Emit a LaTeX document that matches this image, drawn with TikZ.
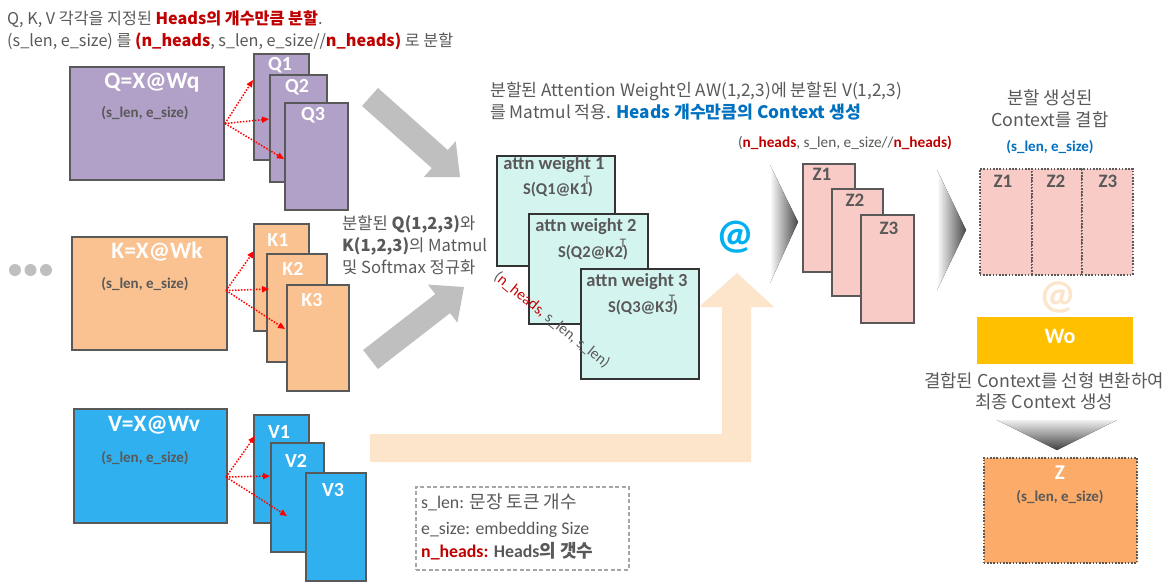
\documentclass[tikz,border=0pt]{standalone}
\usepackage{fontspec}
\setmainfont{Noto Sans CJK KR}
\newfontfamily\cali{Carlito}
\usetikzlibrary{arrows.meta,calc}
\definecolor{qc}{HTML}{B1A0C7}
\definecolor{kc}{HTML}{FAC191}
\definecolor{vc}{HTML}{30B0EE}
\definecolor{bd}{HTML}{595959}
\definecolor{txt}{HTML}{595959}
\definecolor{hr}{HTML}{C00000}
\definecolor{blu}{HTML}{0070C0}
\definecolor{atc}{HTML}{D4F4F0}
\definecolor{atb}{HTML}{333333}
\definecolor{zc}{HTML}{F8CBC6}
\definecolor{woc}{HTML}{FFC000}
\definecolor{zz}{HTML}{FDAB68}
\definecolor{pch}{HTML}{FDE5CC}
\definecolor{arrg}{HTML}{BFBFBF}
\definecolor{atblue}{HTML}{00B0F0}
\definecolor{lgb}{HTML}{A6A6A6}
\begin{document}
\begin{tikzpicture}[x=1pt,y=-1pt,
  box/.style={draw=bd,line width=2pt,anchor=north west,inner sep=0pt},
  abox/.style={draw=atb,line width=2pt,fill=atc,anchor=north west,inner sep=0pt,minimum width=118,minimum height=110},
  dbox/.style={draw=bd,line width=1.6pt,dash pattern=on 1.6pt off 1.6pt,anchor=north west,inner sep=0pt},
  bigl/.style={text=white,font=\cali\bfseries\fontsize{23.5}{26}\selectfont,inner sep=0pt},
  shp/.style={text=txt,font=\cali\bfseries\fontsize{15}{17}\selectfont,inner sep=0pt},
  subl/.style={text=white,font=\cali\bfseries\fontsize{20}{22}\selectfont,inner sep=0pt},
  zl/.style={text=txt,font=\cali\bfseries\fontsize{19}{21}\selectfont,inner sep=0pt},
  awl/.style={text=txt,font=\cali\bfseries\fontsize{18.5}{21}\selectfont,inner sep=0pt},
  sql/.style={text=txt,font=\cali\bfseries\fontsize{16.5}{19}\selectfont,inner sep=0pt},
  tl/.style={text=txt,font=\cali\fontsize{13}{14}\selectfont,inner sep=0pt},
  kr/.style={text=txt,font=\fontsize{16.2}{19}\selectfont,inner sep=0pt,anchor=base west},
  krc/.style={text=txt,font=\fontsize{17.8}{20}\selectfont,inner sep=0pt,anchor=base},
  rar/.style={draw=red,line width=1.5pt,dash pattern=on 1.5pt off 1.5pt,-{Triangle[length=7pt,width=6pt]}},
  dot/.style={circle,fill=arrg,minimum size=12pt,inner sep=0pt}]
\useasboundingbox (0,0) rectangle (1172,587);
\fill[white] (0,0) rectangle (1172,587);

% header
\node[kr] (h1) at (7,24) {Q, K, V 각각을 지정된 \textcolor{hr}{\bfseries Heads의 개수만큼 분할}.};
\node[kr] (h2) at (7,46) {(s\_len, e\_size) 를 \textcolor{hr}{\bfseries (n\_heads}, s\_len, e\_size//\textcolor{hr}{\bfseries n\_heads)} 로 분할};

% gray block arrows
\fill[arrg] (378,88) -- (447.8,150.1) -- (455.7,141.2) -- (460,177) -- (423.9,177) -- (431.8,168.1) -- (362,106) -- cycle;
\fill[arrg] (363.1,350) -- (435.3,294.1) -- (428,284.6) -- (464,287) -- (457.4,322.6) -- (450.1,313.1) -- (377.9,369) -- cycle;

% peach elbow arrow
\fill[pch] (370,434) -- (722,434) -- (722,307) -- (699,307) -- (737,273) -- (774,307) -- (751,307) -- (751,462) -- (370,462) -- cycle;

% Q
\node[box,fill=qc,minimum width=154,minimum height=113] (Q) at (69,66) {};
\node[bigl] (Qt) at (152,83) {Q=X@Wq};
\node[shp] (Qs) at (145,113) {(s\_len, e\_size)};
\node[box,fill=qc,minimum width=55,minimum height=106] (Q1) at (253,53) {};
\node[box,fill=qc,minimum width=57,minimum height=107] (Q2) at (269,74) {};
\node[box,fill=qc,minimum width=63,minimum height=107] (Q3) at (284,102) {};
\node[subl] (Q1t) at (280,65) {Q1};
\node[subl] (Q2t) at (297,87) {Q2};
\node[subl] (Q3t) at (313,115) {Q3};
\draw[rar] (Q.east) -- ($(Q1.north west)+(0,27)$);
\draw[rar] (Q.east) -- ($(Q2.north west)+(0,45)$);
\draw[rar] (Q.east) -- ($(Q3.north west)+(0,57)$);

% K
\node[dot] (d1) at (15,270) {};
\node[dot] (d2) at (30.5,270) {};
\node[dot] (d3) at (46,270) {};
\node[box,fill=kc,minimum width=155,minimum height=113] (K) at (71,236) {};
\node[bigl] (Kt) at (157,252) {K=X@Wk};
\node[shp] (Ks) at (145,284) {(s\_len, e\_size)};
\node[box,fill=kc,minimum width=55,minimum height=107] (K1) at (253,223) {};
\node[box,fill=kc,minimum width=60,minimum height=108] (K2) at (266,253) {};
\node[box,fill=kc,minimum width=62,minimum height=106] (K3) at (286,284) {};
\node[subl] (K1t) at (278,240) {K1};
\node[subl] (K2t) at (293,269) {K2};
\node[subl] (K3t) at (312,300) {K3};
\coordinate (Ko) at ($(K.east)+(-2,-3)$);
\draw[rar] (Ko) -- ($(K1.north west)+(1,28)$);
\draw[rar] (Ko) -- ($(K2.north west)+(3,36)$);
\draw[rar] (Ko) -- ($(K3.north west)+(-1,45)$);

% V
\node[box,fill=vc,minimum width=153,minimum height=114] (V) at (73,408) {};
\node[bigl] (Vt) at (154,425) {V=X@Wv};
\node[shp] (Vs) at (145,458) {(s\_len, e\_size)};
\node[box,fill=vc,minimum width=55,minimum height=108] (V1) at (253,414) {};
\node[box,fill=vc,minimum width=53,minimum height=109] (V2) at (270,442) {};
\node[box,fill=vc,minimum width=60,minimum height=108] (V3) at (305,472) {};
\node[subl] (V1t) at (279,432) {V1};
\node[subl] (V2t) at (296,461) {V2};
\node[subl] (V3t) at (333,490) {V3};
\coordinate (Vo) at ($(V.east)+(-2,11)$);
\draw[rar] (Vo) -- ($(V1.north west)+(2,22)$);
\draw[rar] (Vo) -- ($(V2.north west)+(0,34)$);
\draw[rar] (Vo) -- ($(V3.north west)+(-18,44)$);

% middle-left text
\node[kr,font=\fontsize{16.6}{19}\selectfont] (m1) at (342,229) {분할된 \textbf{Q(1,2,3)}와};
\node[kr,font=\fontsize{16.6}{19}\selectfont] (m2) at (342,251) {\textbf{K(1,2,3)}의 Matmul};
\node[kr,font=\fontsize{16.6}{19}\selectfont] (m3) at (342,273) {및 Softmax 정규화};

% top middle text
\node[kr,font=\fontsize{17.2}{20}\selectfont] (t1) at (490,96) {분할된 Attention Weight인 AW(1,2,3)에 분할된 V(1,2,3)};
\node[kr,font=\fontsize{17.2}{20}\selectfont] (t2) at (490,118) {를 Matmul 적용. \textcolor{blu}{\bfseries Heads 개수만큼의 Context 생성}};

% attention weights
\node[abox] (A1) at (496,155) {};
\node[awl] (A1t) at (554,165) {attn weight 1};
\node[sql] (A1s) at (558,190) {S(Q1@K1)};
\node[tl] (A1T) at (587,180) {T};
\node[abox,minimum width=119] (A2) at (528,213) {};
\node[awl] (A2t) at (586,227) {attn weight 2};
\node[sql] (A2s) at (593,253) {S(Q2@K2)};
\node[tl] (A2T) at (623,243) {T};
\node[abox] (A3) at (580,268) {};
\node[awl] (A3t) at (637,282) {attn weight 3};
\node[sql] (A3s) at (643,308) {S(Q3@K3)};
\node[tl] (A3T) at (672,299) {T};
\node[rotate=-39,text=txt,font=\cali\fontsize{15.5}{17}\selectfont,inner sep=0pt] (rl) at (552,320) {(\textcolor{hr}{n\_heads,} s\_len, s\_len)};

% @ blue
\node[text=atblue,font=\cali\bfseries\fontsize{42}{44}\selectfont,inner sep=0pt] (at1) at (735,237) {@};

% Z stack
\node[text=txt,font=\cali\fontsize{15.3}{17}\selectfont,inner sep=0pt] (zsh) at (845,143) {(\textcolor{hr}{\bfseries n\_heads}, s\_len, e\_size//\textcolor{hr}{\bfseries n\_heads)}};
\fill[left color=white,right color=black!72] (770,165) -- (798,222) -- (770,283) -- cycle;
\node[box,fill=zc,minimum width=52,minimum height=108] (Z1) at (802,163) {};
\node[box,fill=zc,minimum width=51,minimum height=107] (Z2) at (831,188) {};
\node[box,fill=zc,minimum width=53,minimum height=108] (Z3) at (860,214) {};
\node[zl] (Z1t) at (822,174) {Z1};
\node[zl] (Z2t) at (855,200) {Z2};
\node[zl] (Z3t) at (889,228) {Z3};
\fill[left color=white,right color=black!72] (937,170) -- (966,230) -- (937,290) -- cycle;

% right column
\node[krc] (r1) at (1050,104) {분할 생성된};
\node[krc] (r2) at (1050,126) {Context를 결합};
\node[text=blu,font=\cali\bfseries\fontsize{15}{17}\selectfont,inner sep=0pt] (r3) at (1050,147) {(s\_len, e\_size)};
\node[dbox,fill=zc,minimum width=52,minimum height=106] (C1) at (979,168) {};
\node[dbox,fill=zc,minimum width=50,minimum height=106] (C2) at (1031,168) {};
\node[dbox,fill=zc,minimum width=51,minimum height=106] (C3) at (1081,168) {};
\node[zl] (C1t) at (1003,181) {Z1};
\node[zl] (C2t) at (1056,181) {Z2};
\node[zl] (C3t) at (1108,181) {Z3};
\node[text=pch,font=\cali\bfseries\fontsize{41}{43}\selectfont,inner sep=0pt] (at2) at (1058,297) {@};
\node[fill=woc,anchor=north west,inner sep=0pt,minimum width=156,minimum height=47] (Wo) at (977,317) {};
\node[text=white,font=\cali\bfseries\fontsize{22}{24}\selectfont,inner sep=0pt] (Wot) at (1060,336) {Wo};
\node[krc] (r4) at (1044,387) {결합된 Context를 선형 변환하여};
\node[krc] (r5) at (1044,408) {최종 Context 생성};
\fill[top color=gray!12,bottom color=black!75] (997,420) -- (1117,420) -- (1057,450) -- cycle;
\node[dbox,fill=zz,minimum width=153,minimum height=105] (Z) at (983,457) {};
\node[text=white,font=\cali\bfseries\fontsize{21}{23}\selectfont,inner sep=0pt] (Zt) at (1060,473) {Z};
\node[shp] (Zs) at (1060,497) {(s\_len, e\_size)};

% legend
\node[draw=lgb,line width=1.5pt,dash pattern=on 4pt off 2.5pt,anchor=north west,inner sep=0pt,minimum width=213,minimum height=83] (L) at (415,486) {};
\node[kr,font=\cali\fontsize{17.8}{19}\selectfont] (L1) at (421,508) {s\_len: {\fontspec{Noto Sans CJK KR}\fontsize{18}{19}\selectfont 문장 토큰 개수}};
\node[kr,font=\cali\fontsize{17.8}{19}\selectfont] (L2) at (421,534) {e\_size: embedding Size};
\node[kr,font=\cali\bfseries\fontsize{17.8}{19}\selectfont] (L3) at (421,557) {\textcolor{hr}{n\_heads:} Heads{\fontspec{Noto Sans CJK KR}\bfseries\fontsize{18}{19}\selectfont 의 갯수}};
\end{tikzpicture}
\end{document}
